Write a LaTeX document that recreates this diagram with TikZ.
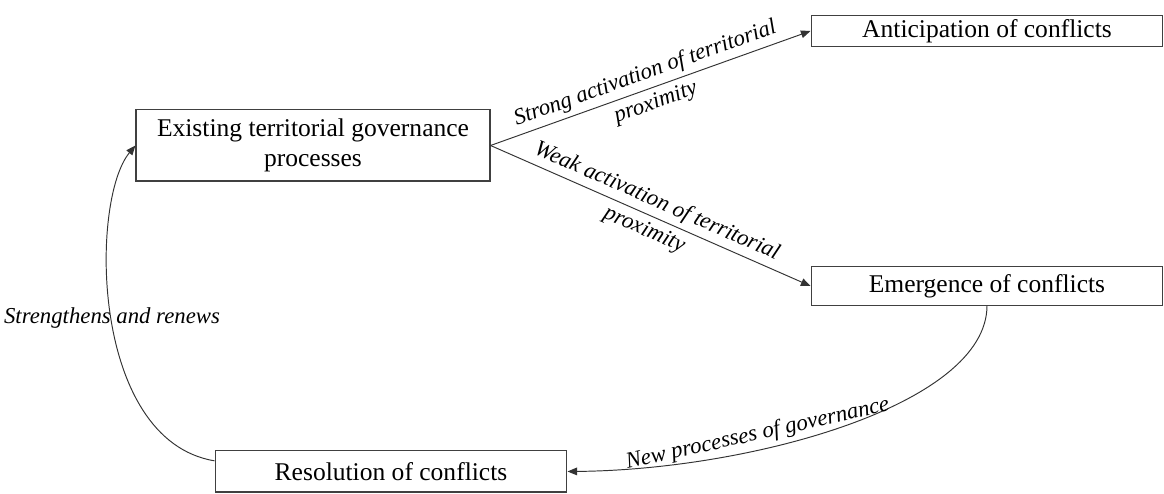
\documentclass[tikz,border=0pt]{standalone}
\usepackage{fontspec}
\setmainfont{Liberation Serif}[ItalicFont={Liberation Serif Italic}]
\usetikzlibrary{arrows.meta}

\begin{document}
\begin{tikzpicture}[x=0.47pt, y=-0.47pt,
  box/.style={draw=black!75, line width=0.5pt, inner sep=0pt,
    minimum width=165.4pt, font=\fontsize{12}{14}\selectfont, align=center},
  arr/.style={draw=black!80, line width=0.45pt, -{Triangle[length=4.5pt,width=3.6pt]}},
  lbl/.style={font=\fontsize{10.7}{14.5}\selectfont\itshape, align=center}]
  \useasboundingbox (0,0) rectangle (1164,494);

  % Define the boxes
  \node[box, minimum width=166.4pt, minimum height=33.4pt] (exist) at (313,145.5) {Existing territorial governance\\processes};
  \node[box, minimum height=15pt] (antic) at (987,31) {Anticipation of conflicts};
  \node[box, minimum height=17.9pt] (emerg) at (987,286) {Emergence of conflicts};
  \node[box, minimum height=19.3pt] (resol) at (391,471.5) {Resolution of conflicts};

  % Draw the two straight arrows
  \draw[arr] (exist.east) -- node[midway, sloped, lbl] {Strong activation of territorial\\proximity} (antic.west);
  \draw[arr] (exist.east) -- node[midway, sloped, lbl] {Weak activation of territorial\\proximity} (emerg.west);

  % Draw the curved arrows back round
  \draw[arr] (emerg.south) .. controls (987,405) and (750,470) .. node[pos=0.66, sloped, above, lbl, inner sep=2pt] {New processes of governance} (resol.east);
  \draw[arr] ([yshift=5pt]resol.west) .. controls (90,440) and (90,200) .. (exist.west);
  \node[lbl] (renew) at (112,318) {Strengthens and renews};
\end{tikzpicture}
\end{document}
